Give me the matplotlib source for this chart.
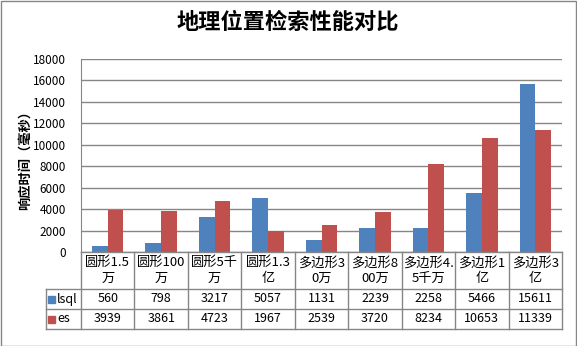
import numpy as np
import matplotlib.pyplot as plt

plt.rcParams['font.family'] = ['Noto Sans CJK SC', 'DejaVu Sans']

categories = ['圆形1.5\n万', '圆形100\n万', '圆形5千\n万', '圆形1.3\n亿', '多边形3\n0万',
              '多边形8\n00万', '多边形4.\n5千万', '多边形1\n亿', '多边形3\n亿']
series_names = ['lsql', 'es']
lsql = [560, 798, 3217, 5057, 1131, 2239, 2258, 5466, 15611]
es = [3939, 3861, 4723, 1967, 2539, 3720, 8234, 10653, 11339]
yticks = [0, 2000, 4000, 6000, 8000, 10000, 12000, 14000, 16000, 18000]

COLORS = ['#4F81BD', '#C0504D']
GRID = '#868686'

W, H = 577, 346
fig = plt.figure(figsize=(W / 100, H / 100), dpi=100)

def px_axes(x0, y0, x1, y1):
    return fig.add_axes([x0 / W, 1 - y1 / H, (x1 - x0) / W, (y1 - y0) / H])

# figure border
fig.patches.append(plt.Rectangle((0.5 / W, 0.5 / H), 1 - 1.5 / W, 1 - 1.5 / H,
                                 transform=fig.transFigure, fill=False,
                                 edgecolor='#868686', lw=1))

fig.text(288 / W, 1 - 22 / H, '地理位置检索性能对比', ha='center', va='center',
         fontsize=16, fontweight='bold')

# bar chart
ax = px_axes(81, 58.7, 562, 252)
n = len(categories)
x = np.arange(n)
bw = 0.295
ax.bar(x - bw / 2, lsql, bw, color=COLORS[0], zorder=3)
ax.bar(x + bw / 2, es, bw, color=COLORS[1], zorder=3)
ax.set_xlim(-0.5, n - 0.5)
ax.set_ylim(0, 18000)
ax.set_yticks(yticks)
ax.set_yticklabels([str(v) for v in yticks], fontsize=8.5)
ax.tick_params(axis='y', length=0, pad=11)
ax.set_xticks([])
ax.yaxis.grid(True, color=GRID, lw=1)
for s in ['top', 'right', 'bottom']:
    ax.spines[s].set_visible(False)
ax.spines['left'].set_color(GRID)
ax.set_ylabel('响应时间（毫秒）', fontsize=9.5, fontweight='bold')
ax.yaxis.set_label_coords(-(81 - 32) / (562 - 81), (252 - 157) / (252 - 58.7))

# data table
tx = px_axes(45.5, 252, 562, 329)
leg_w = (81 - 45.5) / ((562 - 81) / n)
tx.set_xlim(-0.5 - leg_w, n - 0.5)
rows = [0, 37, 57, 77]
tx.set_ylim(rows[-1], rows[0])
tx.axis('off')
lk = dict(color=GRID, lw=1, clip_on=False)
# horizontal lines
tx.plot([-0.5, n - 0.5], [rows[0], rows[0]], **lk)
for r in rows[1:]:
    tx.plot([-0.5 - leg_w, n - 0.5], [r, r], **lk)
# vertical lines
tx.plot([-0.5 - leg_w, -0.5 - leg_w], [rows[1], rows[3]], **lk)
for i in range(n + 1):
    tx.plot([i - 0.5, i - 0.5], [rows[0], rows[3]], **lk)

for i, c in enumerate(categories):
    tx.text(i, (rows[0] + rows[1]) / 2, c, ha='center', va='center',
            fontsize=9.5, linespacing=1.25)
for k, vals in enumerate([lsql, es]):
    yc = (rows[k + 1] + rows[k + 2]) / 2
    for i, v in enumerate(vals):
        tx.text(i, yc, str(v), ha='center', va='center', fontsize=9)
    x0 = -0.5 - leg_w + 0.05
    tx.add_patch(plt.Rectangle((x0, yc - 3.5), 0.13, 7, color=COLORS[k], clip_on=False))
    tx.text(x0 + 0.17, yc, series_names[k], ha='left', va='center', fontsize=9)

fig.savefig('out.png', dpi=100)
